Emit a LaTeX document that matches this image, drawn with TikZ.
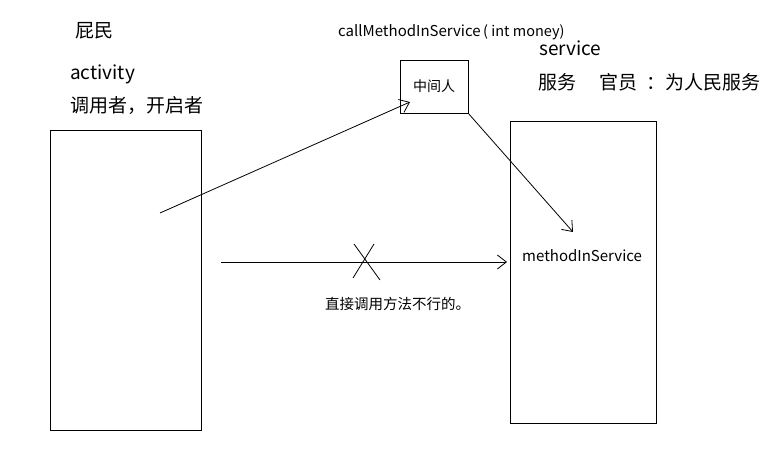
\documentclass[tikz,border=0pt]{standalone}
\usepackage{fontspec}
\setmainfont{Noto Sans CJK SC}
\usetikzlibrary{arrows.meta}

\tikzset{
  label/.style={anchor=west,inner sep=0pt,font=\fontsize{19}{19}\selectfont},
  small/.style={anchor=west,inner sep=0pt,font=\fontsize{15}{15}\selectfont},
  frame/.style={draw,line width=0.8pt,inner sep=0pt},
  call/.style={line width=0.8pt,-{Straight Barb[length=9pt,width=14pt]}}
}

\begin{document}
\begin{tikzpicture}[x=1pt,y=-1pt]
\useasboundingbox[fill=white] (0,0) rectangle (781,460);
% the two sides
\node[frame,minimum width=151pt,minimum height=300pt] (activity) at (125.5,280) {};
\node[frame,minimum width=146pt,minimum height=302pt] (service) at (583,272) {};
\node[frame,minimum width=68pt,minimum height=53pt,font=\fontsize{14}{14}\selectfont] (middle) at (434,86.5) {中间人};
% texts
\node[label] (pimin) at (75,31) {屁民};
\node[label] (actname) at (70,74) {activity};
\node[label] (caller) at (70,106) {调用者，开启者};
\node[small] (callname) at (338,32) {callMethodInService\,{\fontsize{14.5}{14.5}\selectfont( int money)}};
\node[label] (servname) at (539,48) {service};
\node[label] (servrole) at (538,82) {服务\quad\ 官员\hspace{9pt}：为人民服务};
\node[small] (method) at (522,256) {methodInService};
\node[small,font=\fontsize{14.5}{14.5}\selectfont] (note) at (325,304) {直接调用方法不行的。};
% connectors
\coordinate (start) at (160,213);
\coordinate (enter) at (410,102);
\coordinate (leave) at (468,113);
\coordinate (arrive) at (573,232);
\coordinate (left) at (221,262);
\coordinate (right) at (507,262);
\draw[call] (start) -- (enter);
\draw[call] (leave) -- (arrive);
\draw[call] (left) -- (right);
% the cross
\draw[line width=0.8pt] (354,244) -- (380,280);
\draw[line width=0.8pt] (374,244) -- (353,278);
\end{tikzpicture}
\end{document}
